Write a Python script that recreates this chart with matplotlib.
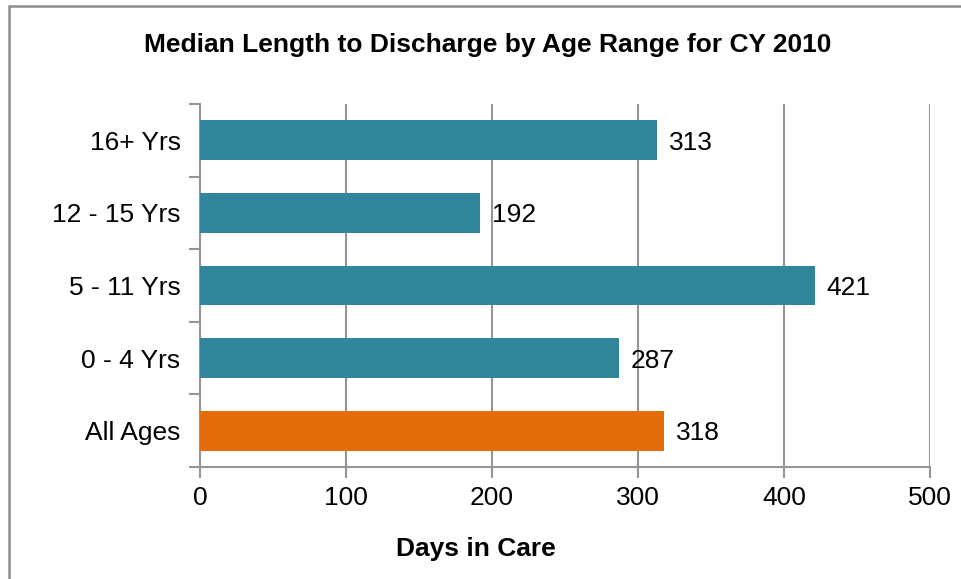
import matplotlib
matplotlib.use("Agg")
import matplotlib.pyplot as plt
from matplotlib.patches import Rectangle
import numpy as np

plt.rcParams['font.family'] = ['Liberation Sans', 'DejaVu Sans']

categories = ["All Ages", "0 - 4 Yrs", "5 - 11 Yrs", "12 - 15 Yrs", "16+ Yrs"]
days = [318, 287, 421, 192, 313]
colors = ["#E46C0A", "#31869B", "#31869B", "#31869B", "#31869B"]
xticks = [0, 100, 200, 300, 400, 500]

fig = plt.figure(figsize=(9.61, 5.79), dpi=100)
ax = fig.add_axes([200/961, 1 - 467/579, 730/961, 363/579])

grid_c = "#959595"
y = np.arange(len(categories))
ax.barh(y, days, height=0.55, color=colors, zorder=3)

for yi, v in zip(y, days):
    ax.text(v + 8, yi, f"{v}", va="center_baseline", ha="left", fontsize=19,
            color="black", zorder=4)

ax.set_xlim(0, 500)
ax.set_ylim(-0.5, len(categories) - 0.5)
ax.set_xticks(xticks)
ax.set_xticklabels([str(t) for t in xticks], fontsize=19)
ax.set_yticks(y)
ax.set_yticklabels(categories, fontsize=19)
ax.set_yticks(np.arange(-0.5, len(categories)), minor=True)
ax.tick_params(axis="y", which="major", length=0, pad=14)
ax.tick_params(axis="y", which="minor", length=8, width=1.5, color=grid_c, direction="out")
ax.tick_params(axis="x", which="major", length=8, width=1.5, color=grid_c, direction="out", pad=6)

ax.grid(axis="x", color=grid_c, linewidth=1.5, zorder=0)
ax.set_axisbelow(True)
for s in ["top", "right"]:
    ax.spines[s].set_visible(False)
for s in ["left", "bottom"]:
    ax.spines[s].set_color(grid_c)
    ax.spines[s].set_linewidth(1.5)

fig.text(476/961, 1 - 549/579, "Days in Care", ha="center", va="center",
         fontsize=19, fontweight="bold")
fig.text(488/961, 1 - 45/579, "Median Length to Discharge by Age Range for CY 2010",
         ha="center", va="center", fontsize=19, fontweight="bold")

fig.patches.append(Rectangle((8.5/961, -0.1), 1.2, 1 - 6.5/579 + 0.1,
                             transform=fig.transFigure, fill=False,
                             edgecolor="#8C8C8C", linewidth=1.8))

fig.savefig("out.png", dpi=100)
